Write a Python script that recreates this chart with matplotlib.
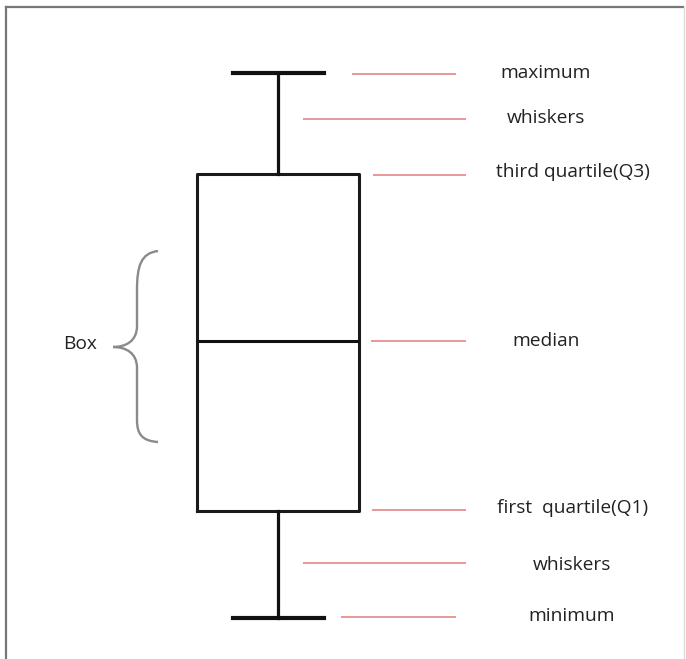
import matplotlib
matplotlib.use("Agg")
import matplotlib.pyplot as plt
from matplotlib.path import Path
from matplotlib.patches import PathPatch

plt.rcParams['font.family'] = ['Open Sans', 'DejaVu Sans']

# Box plot statistics (diagram units, y up)
stat_names = ["whislo", "q1", "med", "q3", "whishi"]
stat_values = [41, 148, 318, 485, 586]

# Annotation labels
labels = ["maximum", "whiskers", "third quartile(Q3)", "median",
          "first  quartile(Q1)", "whiskers", "minimum"]
label_x = [546, 546, 573, 546, 573, 572, 572]
label_y = [586, 541, 487, 318, 151, 94, 43]
line_x0 = [352, 303, 373, 371, 372, 303, 341]
line_x1 = [456, 466, 466, 466, 466, 466, 456]
line_y = [585, 540, 484, 318, 149, 96, 42]

W, H = 686, 659
fig = plt.figure(figsize=(W / 100, H / 100), dpi=100)
ax = fig.add_axes([0, 0, 1, 1])
ax.set_xlim(0, W)
ax.set_ylim(0, H)
ax.axis("off")

stats = dict(zip(stat_names, stat_values))
stats["fliers"] = []
ax.bxp([stats], positions=[278], widths=[162], capwidths=[91],
       boxprops=dict(color="#1a1a1a", lw=2.2),
       whiskerprops=dict(color="#111111", lw=2.3),
       capprops=dict(color="#111111", lw=3.0),
       medianprops=dict(color="#111111", lw=2.2),
       showfliers=False, manage_ticks=False)

for lab, tx, ty, x0, x1, ly in zip(labels, label_x, label_y, line_x0, line_x1, line_y):
    ax.plot([x0, x1], [ly, ly], color="#e37b7b", lw=1.1, solid_capstyle="butt")
    ax.text(tx, ty, lab, ha="center", va="center", fontsize=13.8, color="#222222")

# Brace for "Box"
def p(x, y):
    return (x, H - y)

verts = [p(158, 251), p(141, 253), p(137, 266), p(137, 290),
         p(137, 326),
         p(137, 341), p(126, 347), p(113, 347),
         p(126, 347), p(137, 353), p(137, 368),
         p(137, 420),
         p(137, 434), p(142, 441), p(158, 442)]
codes = [Path.MOVETO, Path.CURVE4, Path.CURVE4, Path.CURVE4,
         Path.LINETO,
         Path.CURVE4, Path.CURVE4, Path.CURVE4,
         Path.CURVE4, Path.CURVE4, Path.CURVE4,
         Path.LINETO,
         Path.CURVE4, Path.CURVE4, Path.CURVE4]
ax.add_patch(PathPatch(Path(verts, codes), facecolor="none", edgecolor="#8a8a8a", lw=1.7))
ax.text(80, H - 344, "Box", ha="center", va="center", fontsize=13.8, color="#222222")

# Frame
ax.plot([6, 6], [0, H - 7], color="#777777", lw=1.6)
ax.plot([6, 683], [H - 7, H - 7], color="#777777", lw=1.6)
ax.plot([684, 684], [H - 7, 0], color="#dddddd", lw=1)

fig.savefig("out.png", dpi=100)
